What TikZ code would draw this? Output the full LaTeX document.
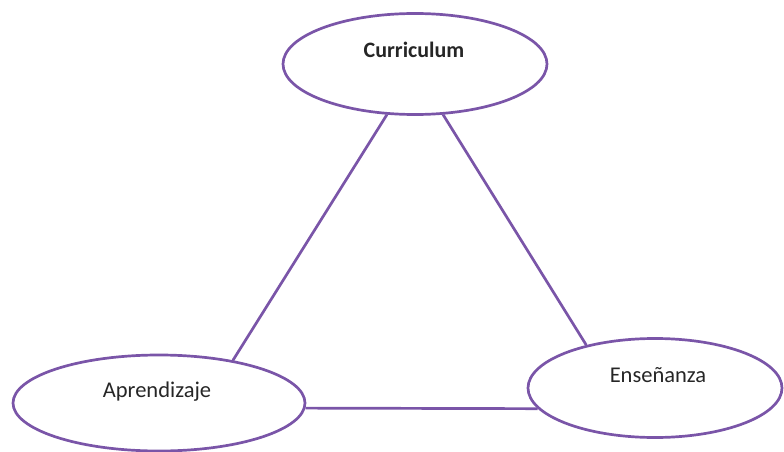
\documentclass[tikz,border=0pt]{standalone}
\usepackage{fontspec}
\setmainfont{Carlito}
\usetikzlibrary{shapes.geometric}
\definecolor{ellpurple}{HTML}{7A55A8}
\tikzset{
  ell/.style={ellipse, draw=ellpurple, line width=2.7pt, inner sep=0pt},
  lbl/.style={font=\fontsize{22.5}{26}\selectfont, text=black!85, inner sep=0pt},
  link/.style={draw=ellpurple, line width=2.7pt}
}
\begin{document}
\begin{tikzpicture}[x=1pt,y=-1pt]
\useasboundingbox (0,0) rectangle (784,452);
\node[ell, minimum width=264pt, minimum height=101pt] (cur) at (415,64) {};
\node[ell, minimum width=292pt, minimum height=96pt] (apr) at (159,403) {};
\node[ell, minimum width=254pt, minimum height=99pt] (ens) at (655,388) {};
\node[lbl, font=\fontsize{22}{26}\selectfont\bfseries] (tcur) at (414,50) {Curriculum};
\node[lbl] (tapr) at (157,392) {Aprendizaje};
\node[lbl] (tens) at (658,375) {Enseñanza};
\draw[link] (cur.241) -- (apr.30);
\draw[link] (cur.299) -- (ens.148);
\draw[link] (apr.358) -- (ens.190);
\end{tikzpicture}
\end{document}
